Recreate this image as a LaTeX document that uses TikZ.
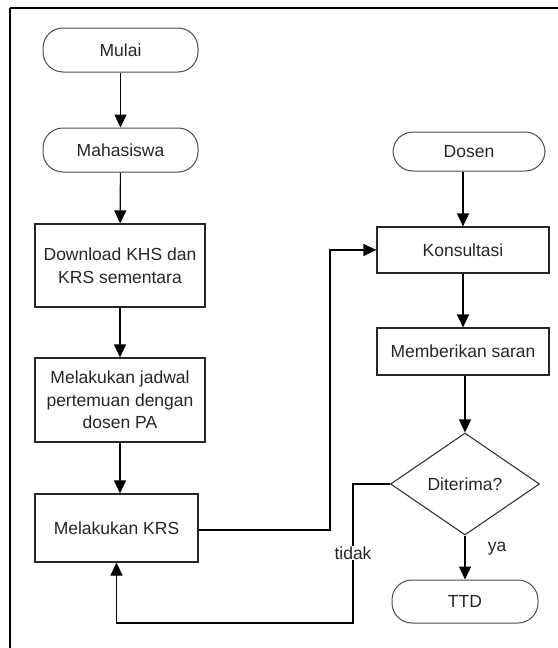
\documentclass[tikz,border=0pt]{standalone}
\usepackage{fontspec}
\setmainfont{Liberation Sans}
\usetikzlibrary{arrows.meta,shapes.geometric}
\tikzset{
  pill/.style={draw=black!70,line width=1pt,rounded corners=20pt,minimum width=155pt,minimum height=44pt,inner sep=0pt},
  kotak/.style={draw=black!85,line width=1.2pt,align=center,inner sep=0pt},
  belah/.style={diamond,draw=black!80,line width=1.1pt,minimum width=149pt,minimum height=102pt,inner sep=0pt},
  panah/.style={line width=1.2pt,-{Triangle[length=13pt,width=12pt]}}
}
\begin{document}
\begin{tikzpicture}[x=1pt,y=-1pt,font=\fontsize{17.5}{22.5}\selectfont,text=black!85]
  \useasboundingbox (0,0) rectangle (557,648);
  \draw[line width=2.4pt] (10,8) -- (560,8);
  \draw[line width=1.5pt] (10,8) -- (10,650);
  \draw
    (120.5,50) node[pill] (mulai){Mulai}
    (120.5,150) node[pill] (mhs){Mahasiswa}
    (120,265.5) node[kotak,minimum width=170pt,minimum height=83pt] (unduh){Download KHS dan\\KRS sementara}
    (120,400) node[kotak,minimum width=170pt,minimum height=84pt] (jadwal){Melakukan jadwal\\pertemuan dengan\\dosen PA}
    (116.5,528) node[kotak,minimum width=163pt,minimum height=68pt] (krs){Melakukan KRS}
    (469,151.5) node[pill,minimum width=152pt,minimum height=39pt] (dosen){Dosen}
    (463,250) node[kotak,minimum width=172pt,minimum height=46pt] (konsul){Konsultasi}
    (463,351.5) node[kotak,minimum width=172pt,minimum height=47pt] (saran){Memberikan saran}
    (465,484) node[belah] (cek){Diterima?}
    (465,601.5) node[pill,minimum width=146pt,minimum height=43pt] (ttd){TTD};
  \coordinate (naik) at (330,530);
  \coordinate (balik) at (353,623);
  \begin{scope}[panah]
    \draw (mulai) to (mhs);
    \draw (mhs) to (unduh);
    \draw (unduh) to (jadwal);
    \draw (jadwal.south) to (jadwal.south |- krs.north);
    \draw (krs.east |- naik) -- (naik) |- (konsul.west);
    \draw (dosen.south -| konsul.north) to (konsul.north);
    \draw (konsul) to (saran);
    \draw (saran.south -| cek.north) to (cek.north);
    \draw (cek) to node[right=19pt,pos=0.3] (ya){ya} (ttd);
    \draw (cek.west) -| (balik) -| (krs.south);
  \end{scope}
  \node[fill=white,inner sep=1pt] (tidak) at (353,553) {tidak};
\end{tikzpicture}
\end{document}
